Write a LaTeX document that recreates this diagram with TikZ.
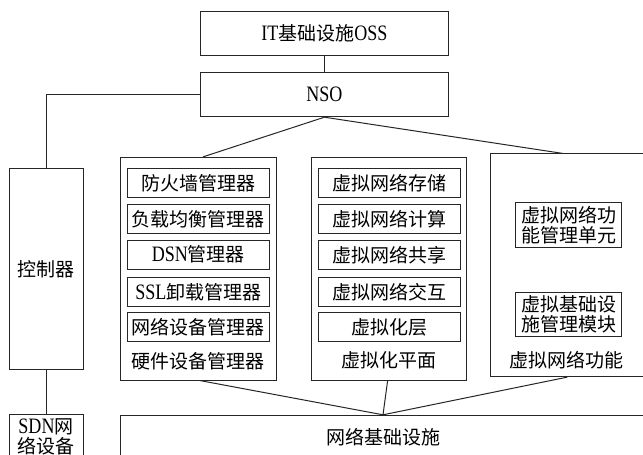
\documentclass[tikz,border=0pt]{standalone}
\usepackage{fontspec}
\usetikzlibrary{calc}
\setmainfont{Liberation Serif}
\newfontfamily\cjk{Noto Sans CJK SC}
\newfontfamily\latf[FakeStretch=0.82]{Liberation Serif}
\newcommand{\lat}[1]{{\latf\fontsize{22}{20}\selectfont #1}}
\begin{document}
\begin{tikzpicture}[x=1pt,y=-1pt,
  box/.style={draw=black!85, line width=1pt, rectangle, inner sep=0pt, align=center,
    font=\fontsize{19}{20}\selectfont\cjk},
  lbl/.style={inner sep=0pt, align=center, font=\fontsize{19}{20}\selectfont\cjk},
  conn/.style={draw=black!85, line width=1pt}]
\useasboundingbox (0,0) rectangle (643,455);
\fill[white] (0,0) rectangle (643,455);
\clip (0,0) rectangle (643,455);

% top
\node[box, minimum width=247.3pt, minimum height=44pt] (it) at (324.4,33) {\lat{IT}基础设施\lat{OSS}};
\node[box, minimum width=247.3pt, minimum height=44pt] (nso) at (324.4,94.7) {\lat{NSO}};

% left column
\node[box, minimum width=74pt, minimum height=200.6pt] (ctrl) at (46,269) {控制器};
\node[box, minimum width=74pt, minimum height=45.3pt] (sdn) at (46,437.3) {\lat{SDN}网\\络设备};

% group boxes
\node[box, minimum width=155.3pt, minimum height=222.7pt] (hw) at (198.4,268.7) {};
\node[box, minimum width=155pt, minimum height=222.7pt] (virt) at (389.2,268.7) {};
\node[box, minimum width=155.3pt, minimum height=222.7pt] (vnf) at (568.3,265.3) {};

% hardware inner
\node[box, minimum width=142pt, minimum height=29pt] (hw1) at (198.3,182.8) {防火墙管理器};
\node[box, minimum width=142pt, minimum height=29pt] (hw2) at (198.3,219) {负载均衡管理器};
\node[box, minimum width=142pt, minimum height=29pt] (hw3) at (198.3,254.7) {\lat{DSN}管理器};
\node[box, minimum width=142pt, minimum height=29pt] (hw4) at (198.3,292.2) {\lat{SSL}卸载管理器};
\node[box, minimum width=142pt, minimum height=29pt] (hw5) at (198.3,327.2) {网络设备管理器};
\node[lbl] (hwl) at (198.3,361.7) {硬件设备管理器};

% virtualization inner
\node[box, minimum width=142.4pt, minimum height=29pt] (v1) at (389.5,182.8) {虚拟网络存储};
\node[box, minimum width=142.4pt, minimum height=29pt] (v2) at (389.5,219) {虚拟网络计算};
\node[box, minimum width=142.4pt, minimum height=29pt] (v3) at (389.5,254.7) {虚拟网络共享};
\node[box, minimum width=142.4pt, minimum height=29pt] (v4) at (389.5,292.2) {虚拟网络交互};
\node[box, minimum width=142.4pt, minimum height=29pt] (v5) at (389.5,327.2) {虚拟化层};
\node[lbl] (vl) at (389.2,360) {虚拟化平面};

% vnf inner
\node[box, minimum width=105.7pt, minimum height=44.5pt] (n1) at (568.8,224.8) {虚拟网络功\\能管理单元};
\node[box, minimum width=105.7pt, minimum height=44pt] (n2) at (568.8,314.7) {虚拟基础设\\施管理模块};
\node[lbl] (nl) at (566.7,360) {虚拟网络功能};

% infrastructure
\node[box, minimum width=524.6pt, minimum height=43pt] (infra) at (383,436.8) {网络基础设施};

% connectors
\draw[conn] (it.south) -- (nso.north);
\draw[conn] (nso.west) -| (ctrl.north);
\draw[conn] (ctrl.south) -- (sdn.north);
\draw[conn] (nso.south) -- ($(hw.north west)!0.53!(hw.north east)$);
\draw[conn] (nso.south) -- ($(vnf.north west)!0.466!(vnf.north east)$);
\draw[conn] ($(hw.south west)!0.51!(hw.south east)$) -- (infra.north);
\draw[conn] ($(virt.south west)!0.49!(virt.south east)$) -- (infra.north);
\draw[conn] ($(vnf.south west)!0.493!(vnf.south east)$) -- (infra.north);
\end{tikzpicture}
\end{document}
